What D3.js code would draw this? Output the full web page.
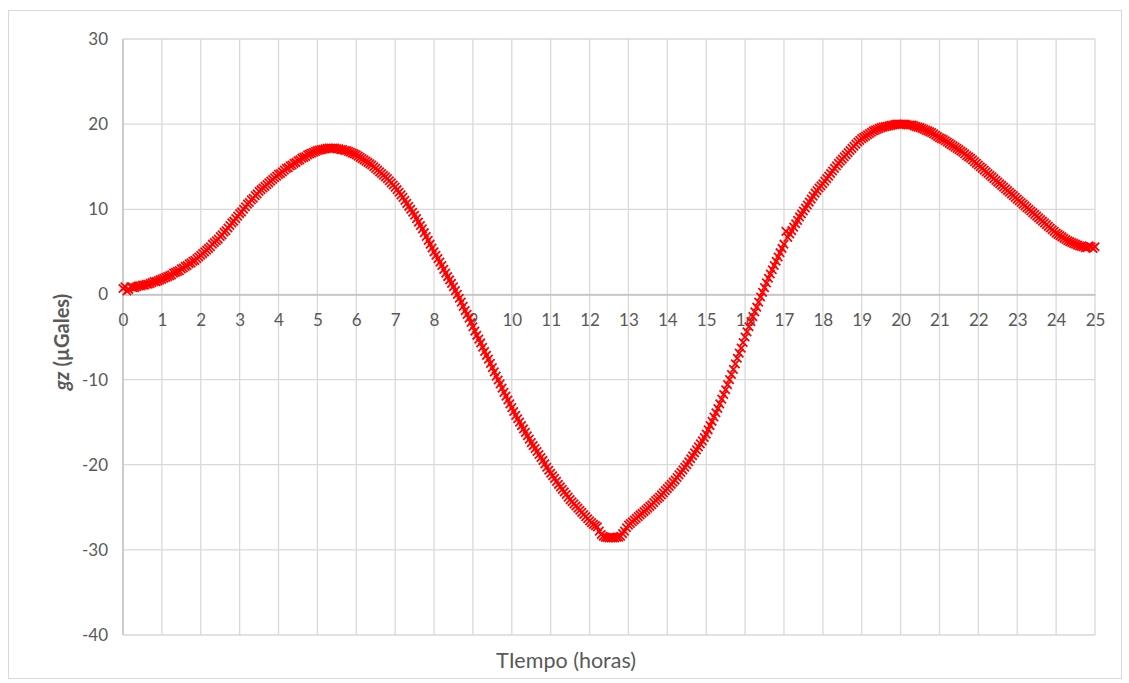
<!DOCTYPE html>
<html>
<head>
<meta charset="utf-8">
<script src="https://cdn.jsdelivr.net/npm/d3@7"></script>
<style>
  html, body { margin: 0; padding: 0; background: #ffffff; }
  svg { display: block; }
</style>
</head>
<body>
<svg id="chart" width="1129" height="683"></svg>
<script>
// Gravity tide gz (µGal), one reading every 0.05 h (3 min); each row is one hour
const gz = [
  0.7, 0.9, 0.4, 0.6, 0.9, 0.8, 0.8, 0.9, 1.0, 1.0, 1.1, 1.1, 1.2, 1.2, 1.3, 1.4, 1.5, 1.5, 1.6, 1.7,
  1.8, 1.9, 2.0, 2.1, 2.2, 2.3, 2.5, 2.6, 2.7, 2.8, 3.0, 3.1, 3.3, 3.4, 3.6, 3.7, 3.9, 4.0, 4.2, 4.4,
  4.6, 4.8, 5.0, 5.2, 5.4, 5.6, 5.9, 6.1, 6.3, 6.5, 6.8, 7.0, 7.3, 7.5, 7.8, 8.1, 8.4, 8.6, 8.9, 9.2,
  9.5, 9.7, 10.0, 10.3, 10.6, 10.8, 11.1, 11.3, 11.6, 11.8, 12.1, 12.3, 12.5, 12.7, 12.9, 13.1, 13.3, 13.5, 13.7, 13.9,
  14.1, 14.2, 14.4, 14.6, 14.8, 14.9, 15.1, 15.2, 15.4, 15.5, 15.7, 15.8, 16.0, 16.1, 16.2, 16.4, 16.5, 16.6, 16.7, 16.8,
  16.9, 16.95, 17.0, 17.05, 17.1, 17.15, 17.2, 17.2, 17.2, 17.2, 17.1, 17.1, 17.0, 17.0, 16.9, 16.9, 16.8, 16.7, 16.6, 16.5,
  16.4, 16.25, 16.1, 15.95, 15.8, 15.65, 15.5, 15.35, 15.2, 15.0, 14.8, 14.6, 14.4, 14.2, 14.0, 13.8, 13.6, 13.35, 13.1, 12.85,
  12.6, 12.3, 12.0, 11.7, 11.4, 11.05, 10.7, 10.35, 10.0, 9.65, 9.3, 8.9, 8.5, 8.1, 7.7, 7.25, 6.8, 6.35, 5.9, 5.45,
  5.0, 4.6, 4.2, 3.8, 3.4, 2.95, 2.5, 2.1, 1.7, 1.3, 0.9, 0.45, 0.0, -0.45, -0.9, -1.4, -1.9, -2.35, -2.8, -3.3,
  -3.8, -4.3, -4.8, -5.25, -5.7, -6.2, -6.7, -7.15, -7.6, -8.1, -8.6, -9.1, -9.6, -10.05, -10.5, -11.0, -11.5, -11.95, -12.4, -12.85,
  -13.3, -13.75, -14.2, -14.6, -15.0, -15.4, -15.8, -16.2, -16.6, -17.0, -17.4, -17.75, -18.1, -18.45, -18.8, -19.15, -19.5, -19.9, -20.3, -20.65,
  -21.0, -21.3, -21.6, -21.95, -22.3, -22.6, -22.9, -23.2, -23.5, -23.8, -24.1, -24.35, -24.6, -24.85, -25.1, -25.35, -25.6, -25.85, -26.1, -26.35,
  -26.6, -26.8, -27.0, -27.15, -27.3, -27.8, -28.2, -28.4, -28.5, -28.55, -28.6, -28.6, -28.6, -28.6, -28.5, -28.5, -28.4, -28.1, -27.8, -27.4,
  -27.1, -26.9, -26.7, -26.5, -26.3, -26.1, -25.9, -25.7, -25.5, -25.3, -25.1, -24.9, -24.7, -24.45, -24.2, -24.0, -23.8, -23.55, -23.3, -23.05,
  -22.8, -22.55, -22.3, -22.05, -21.8, -21.5, -21.2, -20.9, -20.6, -20.3, -20.0, -19.65, -19.3, -18.95, -18.6, -18.25, -17.9, -17.55, -17.2, -16.8,
  -16.4, -15.9, -15.4, -14.9, -14.4, -13.9, -13.4, -12.85, -12.3, -11.75, -11.2, -10.6, -10.0, -9.4, -8.8, -8.15, -7.5, -6.9, -6.3, -5.65,
  -5.0, -4.4, -3.8, -3.2, -2.6, -2.05, -1.5, -0.9, -0.3, 0.25, 0.8, 1.35, 1.9, 2.4, 2.9, 3.4, 3.9, 4.4, 4.9, 5.4,
  5.9, 7.4, 6.7, 7.1, 7.5, 7.9, 8.3, 8.7, 9.1, 9.45, 9.8, 10.15, 10.5, 10.85, 11.2, 11.55, 11.9, 12.2, 12.5, 12.75,
  13.0, 13.3, 13.6, 13.9, 14.2, 14.5, 14.8, 15.1, 15.4, 15.65, 15.9, 16.15, 16.4, 16.65, 16.9, 17.15, 17.4, 17.65, 17.9, 18.1,
  18.3, 18.45, 18.6, 18.75, 18.9, 19.05, 19.2, 19.3, 19.4, 19.5, 19.6, 19.65, 19.7, 19.75, 19.8, 19.85, 19.9, 19.95, 20.0, 20.0,
  20.0, 20.0, 20.0, 19.95, 19.9, 19.9, 19.9, 19.8, 19.7, 19.65, 19.6, 19.5, 19.4, 19.3, 19.2, 19.1, 19.0, 18.85, 18.7, 18.55,
  18.4, 18.3, 18.2, 18.05, 17.9, 17.75, 17.6, 17.45, 17.3, 17.15, 17.0, 16.85, 16.7, 16.5, 16.3, 16.15, 16.0, 15.8, 15.6, 15.4,
  15.2, 15.0, 14.8, 14.6, 14.4, 14.2, 14.0, 13.8, 13.6, 13.4, 13.2, 13.0, 12.8, 12.6, 12.4, 12.2, 12.0, 11.8, 11.6, 11.4,
  11.2, 11.0, 10.8, 10.6, 10.4, 10.2, 10.0, 9.8, 9.6, 9.4, 9.2, 9.0, 8.8, 8.6, 8.4, 8.2, 8.0, 7.8, 7.6, 7.4,
  7.2, 7.05, 6.9, 6.75, 6.6, 6.45, 6.3, 6.2, 6.1, 6.0, 5.9, 5.8, 5.7, 5.65, 5.6, 5.5, 5.5, 5.7, 5.6, 5.4,
  5.6
];
// time of each reading, hours
const hours = gz.map((_, i) => i * 0.05);

const xTicks = d3.range(0, 26);          // 0 … 25 h
const yTicks = [30, 20, 10, 0, -10, -20, -30, -40];
const xTitle = "TIempo (horas)";

const svg = d3.select("#chart");
const fontFamily = "Lato, 'Open Sans', 'Liberation Sans', sans-serif";
const plainNumber = d => String(d);   // keeps an ASCII hyphen for negatives

// chart frame
svg.append("rect")
  .attr("x", 8.5).attr("y", 10.5)
  .attr("width", 1113).attr("height", 668)
  .attr("fill", "#ffffff")
  .attr("stroke", "#d9d9d9").attr("stroke-width", 1);

const x = d3.scaleLinear().domain([0, 25]).range([123, 1095]);
const y = d3.scaleLinear().domain([-40, 30]).range([635, 39]);

// gridlines
const grid = svg.append("g").attr("stroke", "#d9d9d9").attr("stroke-width", 1.3);
grid.selectAll("line.v").data(xTicks).join("line")
  .attr("class", "v")
  .attr("x1", d => x(d)).attr("x2", d => x(d))
  .attr("y1", y(30)).attr("y2", y(-40));
grid.selectAll("line.h").data(yTicks).join("line")
  .attr("class", "h")
  .attr("x1", x(0)).attr("x2", x(25))
  .attr("y1", d => y(d)).attr("y2", d => y(d));

// left axis line
svg.append("line")
  .attr("x1", x(0)).attr("x2", x(0))
  .attr("y1", y(30)).attr("y2", y(-40))
  .attr("stroke", "#bfbfbf").attr("stroke-width", 1.3);

// horizontal axis crossing at zero
const xAxis = svg.append("g")
  .attr("transform", `translate(0,${y(0)})`)
  .call(d3.axisBottom(x).tickValues(xTicks).tickSize(0).tickPadding(20).tickFormat(plainNumber));
xAxis.select(".domain").attr("stroke", "#bfbfbf").attr("stroke-width", 1.5);
xAxis.selectAll("text")
  .attr("font-family", fontFamily).attr("font-size", 17).attr("fill", "#595959");

const yAxis = svg.append("g")
  .attr("transform", `translate(${x(0)},0)`)
  .call(d3.axisLeft(y).tickValues(yTicks).tickSize(0).tickPadding(15).tickFormat(plainNumber));
yAxis.select(".domain").remove();
yAxis.selectAll("text")
  .attr("font-family", fontFamily).attr("font-size", 17).attr("fill", "#595959");

// x-shaped markers for each reading
const pts = hours.map((h, i) => [h, gz[i]]);
svg.append("g")
  .attr("stroke", "#ff0000").attr("stroke-width", 1.8).attr("fill", "none")
  .selectAll("path").data(pts).join("path")
  .attr("transform", d => `translate(${x(d[0])},${y(d[1])})`)
  .attr("d", "M-4.2,-4.2L4.2,4.2M4.2,-4.2L-4.2,4.2");

// axis titles
svg.append("text")
  .attr("x", 566).attr("y", 668)
  .attr("text-anchor", "middle")
  .attr("font-family", fontFamily).attr("font-size", 21.5).attr("fill", "#595959")
  .text(xTitle);

const yt = svg.append("text")
  .attr("transform", `translate(69,342) rotate(-90)`)
  .attr("text-anchor", "middle")
  .attr("font-family", fontFamily).attr("font-size", 20).attr("fill", "#595959")
  .attr("font-weight", "bold");
yt.append("tspan").attr("font-style", "italic").text("gz");
yt.append("tspan").text(" (µGales)");
</script>
</body>
</html>
